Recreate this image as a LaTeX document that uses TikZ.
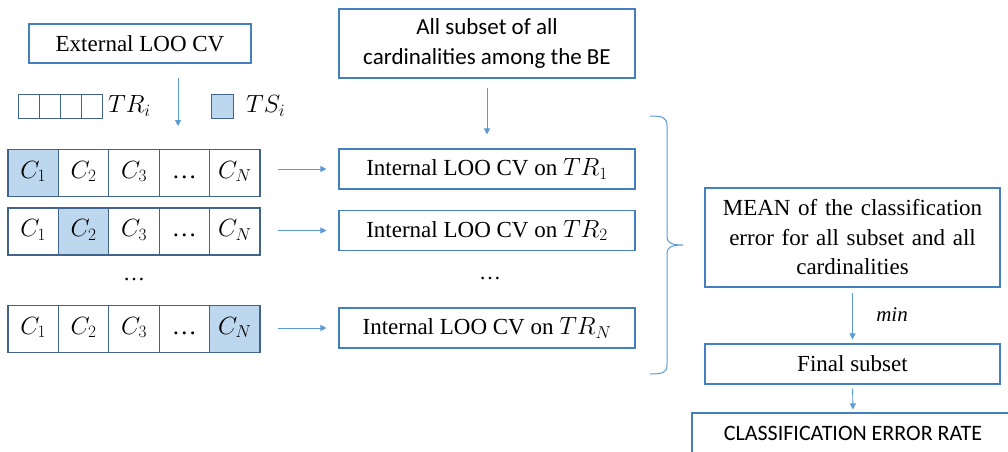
\documentclass[tikz,border=0pt]{standalone}
\usepackage{fontspec}
\setmainfont{Liberation Serif}
\newfontfamily\timesf{Liberation Serif}
\newfontfamily\calibri{Carlito}
\usetikzlibrary{arrows.meta}
\definecolor{boxblue}{RGB}{68,128,192}
\definecolor{cellline}{RGB}{65,100,140}
\definecolor{cellfill}{RGB}{189,215,238}
\definecolor{arrowblue}{RGB}{91,155,213}
\begin{document}
\begin{tikzpicture}[x=1pt,y=-1pt,
  box/.style={draw=boxblue, line width=1.1pt, inner sep=0pt, align=center,
    font=\timesf\fontsize{23}{29.5}\selectfont},
  sansbox/.style={box, font=\calibri\fontsize{23}{30}\selectfont},
  cell/.style={draw=cellline, line width=1.1pt, minimum width=50.4pt,
    minimum height=47pt, inner sep=0pt, text height=15pt, text depth=5pt,
    font=\timesf\fontsize{25}{28}\selectfont},
  hit/.style={cell, fill=cellfill},
  mini/.style={draw=cellline, line width=1pt, minimum width=21pt,
    minimum height=24pt, inner sep=0pt},
  lbl/.style={inner sep=0pt, font=\timesf\fontsize{25}{28}\selectfont},
  arr/.style={draw=arrowblue, line width=0.9pt, -{Triangle[width=6pt,length=6pt]}},
]
\useasboundingbox (0,0) rectangle (1008,451);
\clip (0,0) rectangle (1008,451);

% outer loop
\node[box, minimum width=222pt, minimum height=39pt] (ext) at (140,43.5) {External LOO CV};

% legend: training and test parts
\foreach \i/\x in {1/28.5,2/49.5,3/70.5,4/91.5}
  \node[mini] (tr\i) at (\x,106) {};
\node[lbl, anchor=west] (trlab) at (108,106) {$TR_i$};
\node[mini, fill=cellfill, minimum width=22pt] (ts) at (222,106) {};
\node[lbl, anchor=west] (tslab) at (246,106) {$TS_i$};

\coordinate (extout) at (178,126);
\draw[arr, shorten <=14pt] (ext.south -| extout) -- (extout);

% folds
\foreach \r/\y/\h in {1/173/1, 2/231.5/2, 3/329/5}{
  \foreach \c/\t in {1/$C_1$, 2/$C_2$, 3/$C_3$, 4/\dots, 5/$C_N$}{
    \ifnum\c=\h
      \node[hit] (r\r c\c) at ({33.2+50.4*(\c-1)},\y) {\t};
    \else
      \node[cell] (r\r c\c) at ({33.2+50.4*(\c-1)},\y) {\t};
    \fi
  }
}
\node[lbl, font=\timesf\fontsize{22}{26}\selectfont] (rdots) at (134,280) {\dots};

% feature subsets
\node[sansbox, minimum width=296pt, minimum height=69pt] (be) at (487,43.5)
  {All subset of all\\cardinalities among the BE};

% inner loops
\node[box, minimum width=296pt, minimum height=40pt] (int1) at (487,169) {Internal LOO CV on $TR_1$};
\node[box, minimum width=296pt, minimum height=40pt] (int2) at (487,230.5) {Internal LOO CV on $TR_2$};
\node[box, minimum width=296pt, minimum height=40pt] (int3) at (487,328) {Internal LOO CV on $TR_N$};
\node[lbl, font=\timesf\fontsize{22}{26}\selectfont] (idots) at (490,279) {\dots};

\draw[arr, shorten <=9pt, shorten >=14pt] (be.south) -- (int1.north);
\foreach \r in {1,2,3}
  \draw[arr, shorten <=17pt, shorten >=12pt] (int\r.west -| r\r c5.east) -- (int\r.west);

% brace gathering the inner loops
\coordinate (tip) at (683,245);
\draw[draw=arrowblue, line width=1pt]
  (650,116) .. controls (662,116) and (667,117) .. (667,126) -- (667,237)
  .. controls (667,243) and (672,245) .. (tip)
  .. controls (672,245) and (667,247) .. (667,253) -- (667,365)
  .. controls (667,373) and (662,374) .. (650,374);

% aggregation and selection
\node[box, text width=290pt, minimum width=295pt, minimum height=99pt] (mean) at (852.5,237.5)
  {MEAN of the classification\\error for all subset and all\\cardinalities};
\node[box, minimum width=295pt, minimum height=40pt] (final) at (852.5,364) {Final subset};
\node[lbl, font=\timesf\itshape\fontsize{21}{25}\selectfont] (minlab) at (892,315) {min};
\node[box, font=\calibri\fontsize{22}{26}\selectfont, minimum width=322pt, minimum height=40pt] (rate) at (853,433) {CLASSIFICATION ERROR RATE};

\draw[arr, shorten <=5pt, shorten >=4pt] (mean.south) -- (final.north);
\draw[arr, shorten <=4pt, shorten >=3pt] (final.south) -- (rate.north);
\end{tikzpicture}
\end{document}
